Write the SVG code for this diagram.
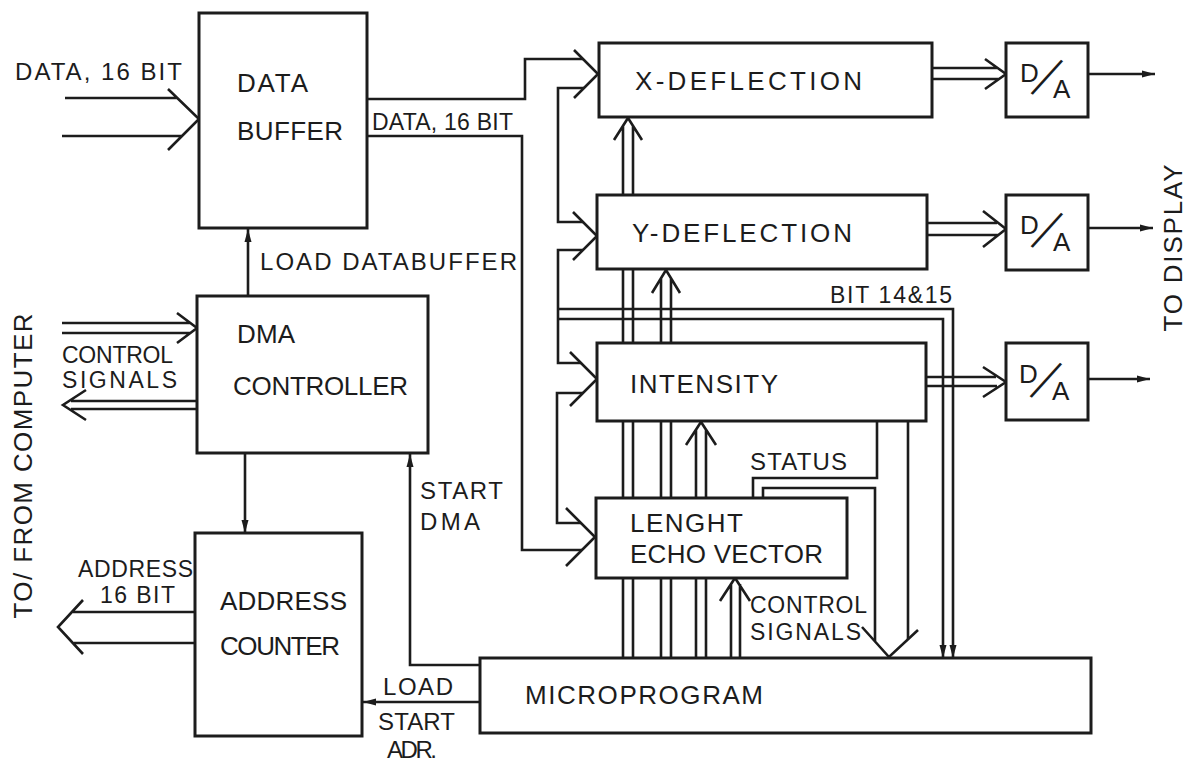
<svg xmlns="http://www.w3.org/2000/svg" width="1189" height="762" viewBox="0 0 1189 762">
<defs>
<style>
.box{fill:#fff;stroke:#1c1c1c;stroke-width:3}
.ln{fill:none;stroke:#1c1c1c;stroke-width:2.6;stroke-linejoin:miter;stroke-linecap:butt}
.t{font-family:"Liberation Sans",Arial,sans-serif;fill:#1c1c1c;font-size:26px}
.m{font-size:24px}
.s{font-size:23px}
.sl{font-size:32px}
</style>
<marker id="ah" markerUnits="userSpaceOnUse" markerWidth="14" markerHeight="8" refX="13" refY="4" orient="auto">
<path d="M0,0.5 L13,4 L0,7.5 z" fill="#1c1c1c"/>
</marker>
</defs>
<rect width="1189" height="762" fill="#fff"/>

<g id="connectors" class="ln">
<path d="M65 98 H177 M62 136 H182 M168 89 L199 119 L168 150"/>
<path d="M367 99 H525 V59 H583"/>
<path d="M367 136 H522 V550 H582"/>
<path d="M574 50 L598 74 L574 98"/>
<path d="M584 88 H558 V222 H583"/>
<path d="M573 212 L597 236 L573 260"/>
<path d="M583 250 H558 V363 H581"/>
<path d="M570 352 L597 379 L570 406"/>
<path d="M583 393 H557 V523 H581"/>
<path d="M566 508 L595 537 L566 566"/>
<path d="M558 309 H953 V658" marker-end="url(#ah)"/>
<path d="M558 319 H943 V658" marker-end="url(#ah)"/>
<path d="M623 658 V126 M633 658 V126 M614 140 L628 118 L642 140"/>
<path d="M661 658 V278 M671 658 V278 M652 293 L666 270 L680 293"/>
<path d="M696 658 V430 M706 658 V430 M686 445 L701 422 L716 445"/>
<path d="M731 658 V584 M740 658 V584 M720 601 L735 578 L750 601"/>
<path d="M877 421 V478 H753 V499"/>
<path d="M763 499 V488 H875 V641"/>
<path d="M908 421 V639"/>
<path d="M862 627 L889 657 L918 630"/>
<path d="M932 68 H997 M932 79 H999 M985 59 L1006 74 L985 89"/>
<path d="M927 223 H997 M927 235 H998 M983 211 L1006 229 L983 247"/>
<path d="M926 377 H996 M926 386 H997 M983 367 L1006 382 L983 397"/>
<path d="M1088 74 H1155" marker-end="url(#ah)"/>
<path d="M1088 228 H1153" marker-end="url(#ah)"/>
<path d="M1088 379 H1150" marker-end="url(#ah)"/>
<path d="M248 296 V229" marker-end="url(#ah)"/>
<path d="M62 323 H190 M62 333 H190 M177 313 L197 328 L177 343"/>
<path d="M197 401 H71 M197 409 H71 M86 390 L63 405 L86 420"/>
<path d="M245 453 V533" marker-end="url(#ah)"/>
<path d="M195 612 H73 M195 643 H74 M83 600 L58 627 L83 654"/>
<path d="M480 665 H410 V454" marker-end="url(#ah)"/>
<path d="M480 702 H363" marker-end="url(#ah)"/>
</g>

<g id="data-buffer"><rect class="box" x="199" y="13" width="168" height="215"/>
<text class="t" x="237" y="92" textLength="71">DATA</text>
<text class="t" x="237" y="140" textLength="106">BUFFER</text></g>

<g id="dma-controller"><rect class="box" x="197" y="296" width="231" height="157"/>
<text class="t" x="237" y="343" textLength="58">DMA</text>
<text class="t" x="233" y="395" textLength="175">CONTROLLER</text></g>

<g id="address-counter"><rect class="box" x="195" y="533" width="167" height="203"/>
<text class="t" x="220" y="610" textLength="127">ADDRESS</text>
<text class="t" x="220" y="655" textLength="120">COUNTER</text></g>

<g id="x-deflection"><rect class="box" x="599" y="43" width="333" height="74"/>
<text class="t" x="635" y="90" textLength="227">X-DEFLECTION</text></g>

<g id="y-deflection"><rect class="box" x="597" y="195" width="330" height="74"/>
<text class="t" x="632" y="242" textLength="220">Y-DEFLECTION</text></g>

<g id="intensity"><rect class="box" x="597" y="343" width="329" height="78"/>
<text class="t" x="630" y="393" textLength="148">INTENSITY</text></g>

<g id="lenght-echo-vector"><rect class="box" x="596" y="498" width="251" height="80"/>
<text class="t" x="630" y="532" textLength="113">LENGHT</text>
<text class="t" x="630" y="563" textLength="193">ECHO VECTOR</text></g>

<g id="microprogram"><rect class="box" x="480" y="658" width="611" height="75"/>
<text class="t" x="525" y="704" textLength="238">MICROPROGRAM</text></g>

<g id="da-1"><rect class="box" x="1006" y="43" width="82" height="74"/>
<text class="t" x="1020" y="82">D</text>
<text class="t sl" transform="translate(1047,77) rotate(34) scale(1,1.9)" x="0" y="11.5" text-anchor="middle">/</text>
<text class="t" x="1053" y="98">A</text></g>

<g id="da-2"><rect class="box" x="1006" y="195" width="82" height="75"/>
<text class="t" x="1020" y="234">D</text>
<text class="t sl" transform="translate(1047,230) rotate(34) scale(1,1.9)" x="0" y="11.5" text-anchor="middle">/</text>
<text class="t" x="1053" y="251">A</text></g>

<g id="da-3"><rect class="box" x="1006" y="343" width="82" height="77"/>
<text class="t" x="1019" y="383">D</text>
<text class="t sl" transform="translate(1046,380) rotate(34) scale(1,1.9)" x="0" y="11.5" text-anchor="middle">/</text>
<text class="t" x="1052" y="400">A</text></g>

<g id="labels">
<text class="t m" x="15" y="80" textLength="167">DATA, 16 BIT</text>
<text class="t s" x="372" y="130" textLength="141">DATA, 16 BIT</text>
<text class="t m" x="260" y="270" textLength="257">LOAD DATABUFFER</text>
<text class="t s" x="62" y="363" textLength="111">CONTROL</text>
<text class="t s" x="62" y="388" textLength="115">SIGNALS</text>
<text class="t s" x="78" y="577" textLength="115">ADDRESS</text>
<text class="t s" x="100" y="603" textLength="75">16 BIT</text>
<text class="t m" x="420" y="499" textLength="83">START</text>
<text class="t m" x="420" y="530" textLength="60">DMA</text>
<text class="t m" x="383" y="695" textLength="70">LOAD</text>
<text class="t m" x="378" y="730" textLength="77">START</text>
<text class="t m" x="387" y="758" textLength="50">ADR.</text>
<text class="t m" x="750" y="470" textLength="97">STATUS</text>
<text class="t s" x="750" y="613" textLength="117">CONTROL</text>
<text class="t s" x="750" y="640" textLength="111">SIGNALS</text>
<text class="t s" x="830" y="303" textLength="122">BIT 14&amp;15</text>
<text class="t" font-size="27" transform="translate(1182,248) rotate(-90)" x="0" y="0" text-anchor="middle" textLength="167">TO DISPLAY</text>
<text class="t" font-size="27" transform="translate(32,466) rotate(-90)" x="0" y="0" text-anchor="middle" textLength="305">TO/ FROM COMPUTER</text>
</g>
</svg>
